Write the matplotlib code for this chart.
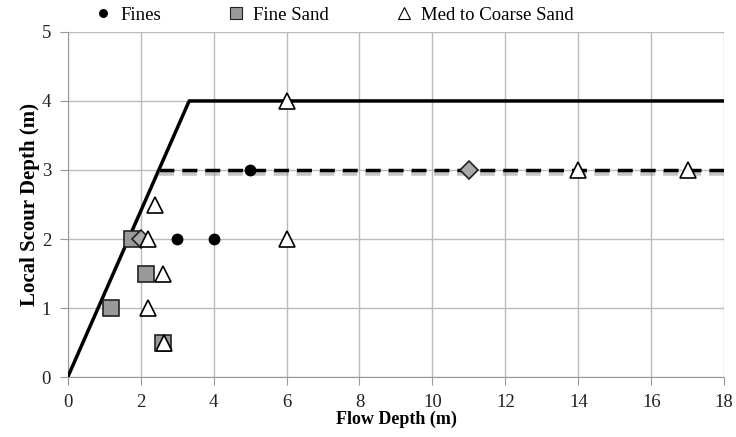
import matplotlib
matplotlib.use('Agg')
import matplotlib.pyplot as plt
import matplotlib.patheffects as pe

# envelope curves
env_x = [0, 3.33, 18]
env_y = [0, 4, 4]
env2_x = [2.5, 18]
env2_y = [3, 3]

# observed data
fines_x = [5, 3, 4]
fines_y = [3, 2, 2]
fsand_x = [1.2, 2.15, 1.75, 2.6]
fsand_y = [1, 1.5, 2, 0.5]
other_x = [11, 2.0]
other_y = [3, 2]
coarse_x = [6, 2.4, 2.2, 6, 2.6, 2.2, 2.65, 14, 17]
coarse_y = [4, 2.5, 2, 2, 1.5, 1, 0.5, 3, 3]

plt.rcParams['font.family'] = ['Liberation Serif', 'DejaVu Serif']

fig = plt.figure(figsize=(7.36, 4.37), dpi=100)
ax = fig.add_axes([0.092, 0.137, 0.892, 0.79])

ax.plot(env_x, env_y, color='black', lw=2.5, zorder=3)
ax.plot(env2_x, env2_y, color='black', lw=2.5, ls=(0, (4.3, 2.3)), zorder=3,
        path_effects=[pe.SimpleLineShadow(offset=(0, -2), shadow_color='gray', alpha=0.45,
                                          linewidth=4),
                      pe.Normal()])

ax.plot(fines_x, fines_y, 'o', ms=7.5, color='black', mec='black', label='Fines', zorder=4)
ax.plot(fsand_x, fsand_y, 's', ms=11, mfc='#999999', mec='#222222', mew=1.2,
        label='Fine Sand', zorder=4)
ax.plot(other_x, other_y, 'D', ms=9, mfc='#aaaaaa', mec='#222222', mew=1.2, zorder=4)
ax.plot(coarse_x, coarse_y, '^', ms=11, mfc='white', mec='black', mew=1.2,
        label='Med to Coarse Sand', zorder=5)

ax.set_xlim(0, 18)
ax.set_ylim(0, 5)
ax.set_xticks(range(0, 19, 2))
ax.set_yticks(range(0, 6))
ax.grid(True, color='#bbbbbb', lw=1)
ax.set_axisbelow(True)
for s in ['top', 'right']:
    ax.spines[s].set_visible(False)
for s in ['left', 'bottom']:
    ax.spines[s].set_color('#999999')
ax.tick_params(colors='#999999', labelcolor='#222222', labelsize=13.5, length=6, pad=6)

ax.set_xlabel('Flow Depth (m)', fontsize=13, fontweight='bold', labelpad=0)
ax.set_ylabel('Local Scour Depth (m)', fontsize=15, fontweight='bold', labelpad=1)

leg = ax.legend(loc='lower center', bbox_to_anchor=(0.405, 0.975), ncol=3, frameon=False,
                fontsize=13.5, markerscale=0.75, handlelength=1.0, columnspacing=3.5,
                handletextpad=0.4)
for h in leg.legend_handles:
    h.set_markeredgewidth(0.8)

fig.savefig('out.png', dpi=100)
